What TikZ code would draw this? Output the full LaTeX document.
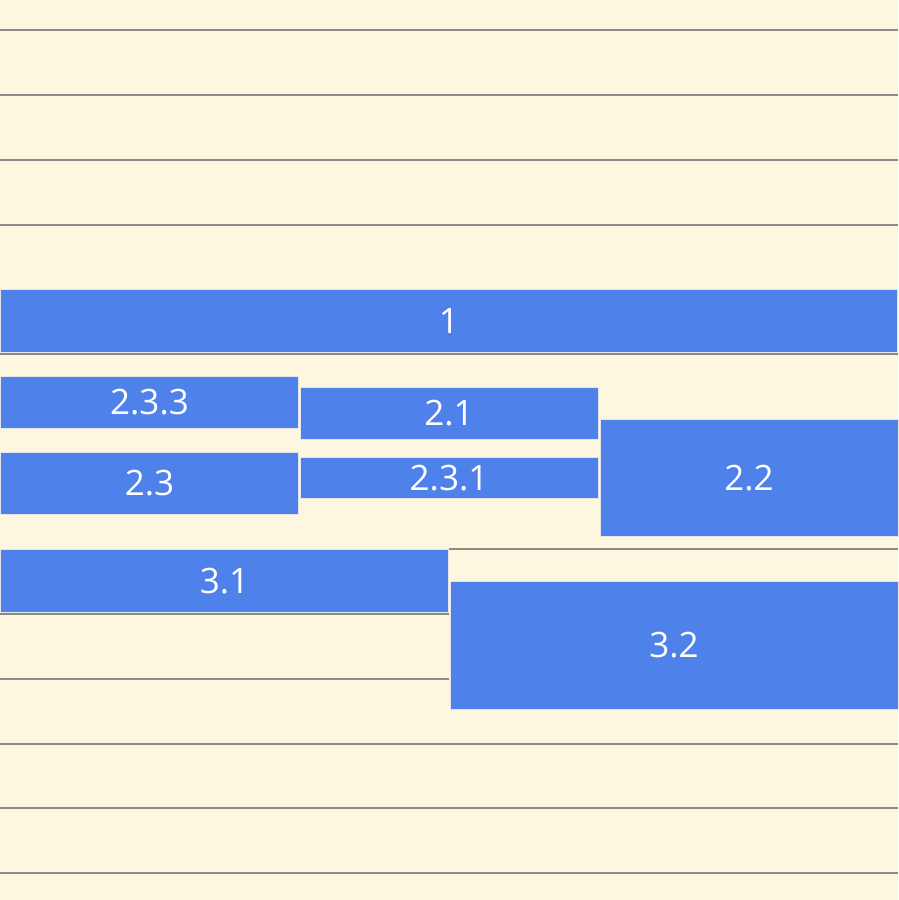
\documentclass[tikz,border=0pt]{standalone}
\usepackage{fontspec}
\setmainfont{Open Sans}
\usepackage{tikz}
\usetikzlibrary{positioning}
\definecolor{paper}{HTML}{FEF7E0}
\definecolor{rule}{HTML}{8A8A88}
\definecolor{blk}{HTML}{4F81EB}
\definecolor{edge}{HTML}{E4E6EA}

\begin{document}
\begin{tikzpicture}[x=1pt, y=-1pt,
    every node/.style={font=\fontsize{35}{40}\selectfont},
    box/.style={draw=edge, line width=1pt, fill=blk, text=white, inner sep=0pt, anchor=north west},
    ruleline/.style={draw=rule, line width=2pt}]
    \fill[paper] (0,0) rectangle (898,900);
    \useasboundingbox (0,0) rectangle (898,900);

    % ruled lines
    \foreach \y in {30,95,160,225,354,744,808,873}
        \draw[ruleline] (0,\y) -- (898,\y);
    \draw[ruleline] (449,549) -- (898,549);
    \draw[ruleline] (0,614) -- (449,614);
    \draw[ruleline] (0,679) -- (449,679);

    % blocks
    \node[box, minimum width=897pt, minimum height=63pt] (b1) at (0,289) {1};
    \node[box, minimum width=298pt, minimum height=52pt] (b233) at (0,376) {2.3.3};
    \node[box, minimum width=298pt, minimum height=62pt] (b23) at (0,452) {2.3};
    \node[box, minimum width=298pt, minimum height=52pt] (b21) at (299.5,387) {2.1};
    \node[box, minimum width=298pt, minimum height=41pt] (b231) at (299.5,457) {2.3.1};
    \node[box, minimum width=298pt, minimum height=117pt] (b22) at (599.5,419) {2.2};
    \node[box, minimum width=448pt, minimum height=63pt] (b31) at (0,549) {3.1};
    \node[box, minimum width=448pt, minimum height=128pt] (b32) at (449.5,581) {3.2};
\end{tikzpicture}
\end{document}
